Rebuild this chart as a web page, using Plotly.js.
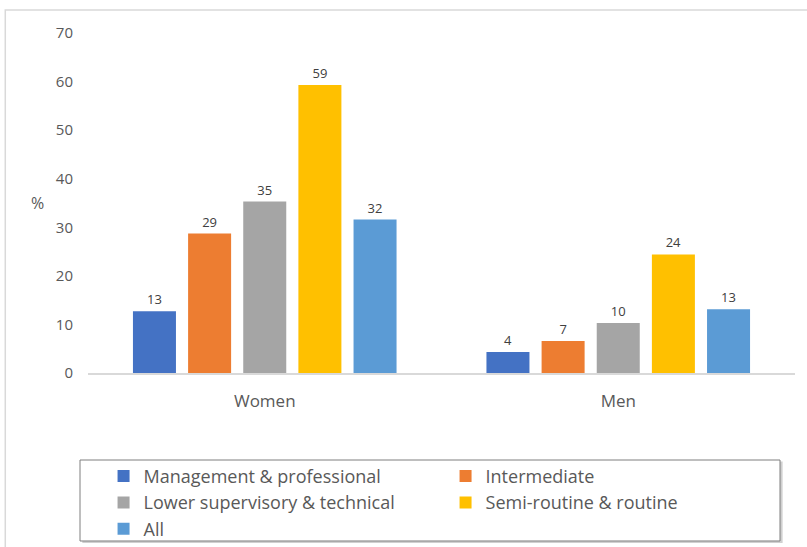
<!DOCTYPE html>
<html>
<head>
<meta charset="utf-8">
<script src="https://cdn.plot.ly/plotly-3.0.1.min.js"></script>
<style>html,body{margin:0;padding:0;background:#fff;}#chart{width:807px;height:547px;}</style>
</head>
<body>
<div id="chart"></div>
<script>
var groups = ["Women", "Men"];
var seriesNames = ["Management & professional", "Intermediate", "Lower supervisory & technical", "Semi-routine & routine", "All"];
var seriesColors = ["#4472C4", "#ED7D31", "#A5A5A5", "#FFC000", "#5B9BD5"];
var mgmtValues = [12.7, 4.3];
var interValues = [28.7, 6.6];
var lowerValues = [35.3, 10.3];
var semiValues = [59.3, 24.4];
var allValues = [31.6, 13.1];
var mgmtLabels = ["13", "4"];
var interLabels = ["29", "7"];
var lowerLabels = ["35", "10"];
var semiLabels = ["59", "24"];
var allLabels = ["32", "13"];
var yTicks = [0, 10, 20, 30, 40, 50, 60, 70];

var valueSets = [mgmtValues, interValues, lowerValues, semiValues, allValues];
var labelSets = [mgmtLabels, interLabels, lowerLabels, semiLabels, allLabels];
var font = "'Open Sans', Lato, sans-serif";

var traces = seriesNames.map(function (name, i) {
  return {
    type: "bar",
    name: name,
    x: groups,
    y: valueSets[i],
    text: labelSets[i],
    textposition: "outside",
    textfont: {family: font, size: 13, color: "#404040"},
    cliponaxis: false,
    marker: {color: seriesColors[i]},
    hoverinfo: "none"
  };
});

var layout = {
  width: 807,
  height: 547,
  margin: {l: 88, r: 12, t: 33, b: 174},
  paper_bgcolor: "#fff",
  plot_bgcolor: "#fff",
  barmode: "group",
  bargap: 0.22,
  bargroupgap: 0.22,
  font: {family: font, color: "#595959"},
  showlegend: true,
  legend: {
    orientation: "h",
    xref: "paper",
    x: 0.022,
    xanchor: "left",
    yref: "container",
    y: 0.163,
    yanchor: "top",
    entrywidth: 297,
    tracegroupgap: 0,
    bgcolor: "rgba(0,0,0,0)",
    font: {family: font, size: 18, color: "#595959"}
  },
  xaxis: {
    showgrid: false,
    showline: true,
    linecolor: "#d9d9d9",
    linewidth: 2,
    ticks: "",
    ticklabelstandoff: 12,
    tickfont: {family: font, size: 17, color: "#595959"},
    fixedrange: true
  },
  yaxis: {
    range: [0, 70],
    tickvals: yTicks,
    showgrid: false,
    zeroline: false,
    showline: false,
    ticks: "",
    ticklabelstandoff: 14,
    tickfont: {family: font, size: 15, color: "#595959"},
    fixedrange: true
  },
  annotations: [{
    text: "%",
    xref: "paper", yref: "paper",
    x: -0.072, y: 0.5,
    xanchor: "center", yanchor: "middle",
    showarrow: false,
    font: {family: font, size: 16, color: "#595959"}
  }],
  shapes: [
    {type: "rect", xref: "paper", yref: "paper", x0: -0.117, x1: 1.05, y0: -0.6, y1: 1.068,
     line: {color: "#d9d9d9", width: 1.5}, fillcolor: "rgba(0,0,0,0)", layer: "below"},
    {type: "rect", xref: "paper", yref: "paper", x0: -0.008, x1: 0.9825, y0: -0.5, y1: -0.2606,
     line: {color: "#c8c8c8", width: 0}, fillcolor: "#d0d0d0", layer: "below"},
    {type: "rect", xref: "paper", yref: "paper", x0: -0.0113, x1: 0.9788, y0: -0.4941, y1: -0.2559,
     line: {color: "#7f7f7f", width: 1}, fillcolor: "#ffffff", layer: "below"}
  ]
};

Plotly.newPlot("chart", traces, layout, {displayModeBar: false, staticPlot: true});
</script>
</body>
</html>
